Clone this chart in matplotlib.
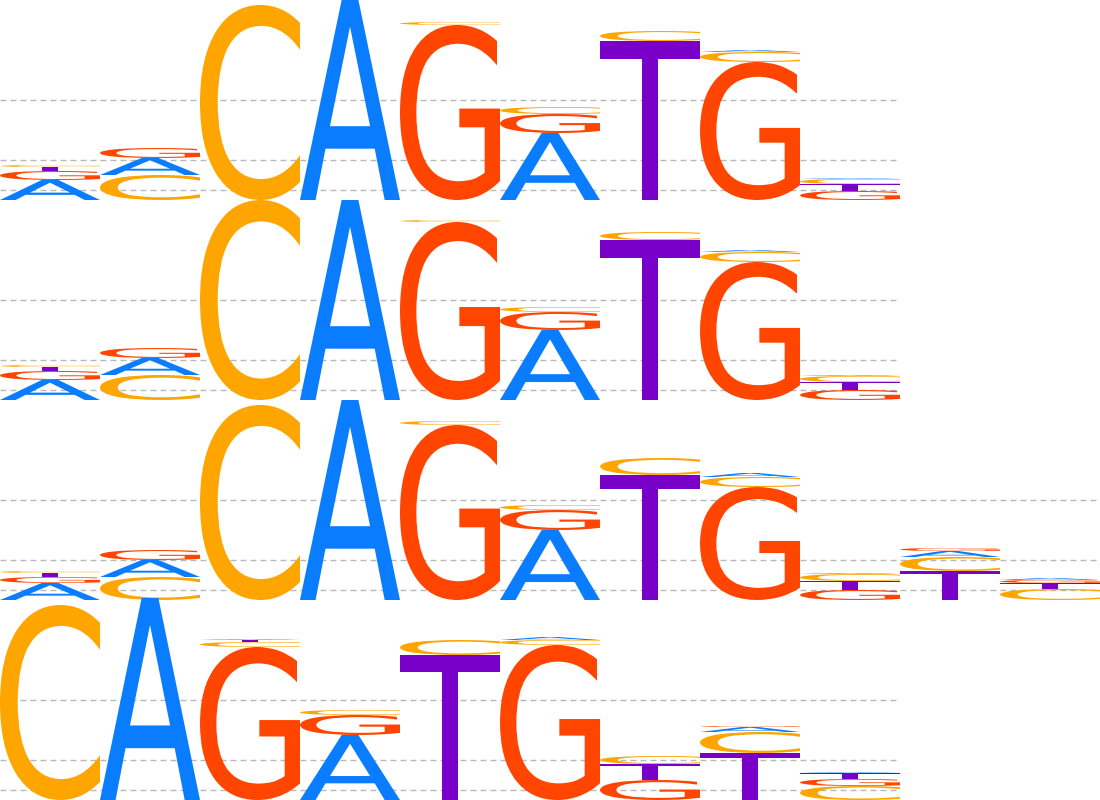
import matplotlib
matplotlib.use('Agg')
import matplotlib.pyplot as plt
from matplotlib.textpath import TextPath
from matplotlib.patches import PathPatch
from matplotlib.font_manager import FontProperties
from matplotlib.transforms import Affine2D

bases = ['A', 'C', 'G', 'T']
colors = {'A': '#0a7dff', 'C': '#ffa500', 'G': '#ff4500', 'T': '#7800c8'}

# information content per position, columns are A, C, G, T (bits)
motif1 = [[0.20, 0.02, 0.09, 0.04],
          [0.17, 0.25, 0.10, 0.00],
          [0.00, 1.95, 0.00, 0.00],
          [2.00, 0.00, 0.00, 0.00],
          [0.00, 0.03, 1.75, 0.00],
          [0.67, 0.07, 0.19, 0.00],
          [0.00, 0.10, 0.00, 1.59],
          [0.02, 0.10, 1.38, 0.00],
          [0.01, 0.05, 0.09, 0.07]]

motif2 = [[0.20, 0.02, 0.09, 0.04],
          [0.17, 0.25, 0.10, 0.00],
          [0.00, 2.00, 0.00, 0.00],
          [2.00, 0.00, 0.00, 0.00],
          [0.00, 0.02, 1.78, 0.00],
          [0.70, 0.05, 0.18, 0.00],
          [0.00, 0.08, 0.00, 1.60],
          [0.02, 0.10, 1.38, 0.00],
          [0.01, 0.06, 0.10, 0.08]]

motif3 = [[0.17, 0.02, 0.06, 0.04],
          [0.17, 0.23, 0.10, 0.00],
          [0.00, 1.95, 0.00, 0.00],
          [2.00, 0.00, 0.00, 0.00],
          [0.00, 0.04, 1.75, 0.00],
          [0.70, 0.05, 0.20, 0.00],
          [0.00, 0.17, 0.00, 1.25],
          [0.04, 0.10, 1.13, 0.00],
          [0.01, 0.07, 0.10, 0.09],
          [0.06, 0.14, 0.03, 0.29],
          [0.02, 0.11, 0.03, 0.06]]

motif4 = [[0.00, 1.95, 0.00, 0.00],
          [2.02, 0.00, 0.00, 0.00],
          [0.01, 0.05, 1.53, 0.02],
          [0.65, 0.05, 0.20, 0.00],
          [0.00, 0.15, 0.00, 1.45],
          [0.03, 0.05, 1.55, 0.00],
          [0.00, 0.08, 0.20, 0.16],
          [0.05, 0.21, 0.01, 0.47],
          [0.01, 0.14, 0.07, 0.06]]

motifs = [motif1, motif2, motif3, motif4]
grid_levels = [1.0, 0.4, 0.1]

fp = FontProperties(family='DejaVu Sans')


def draw_letter(ax, letter, x, y, w, h):
    path = TextPath((0, 0), letter, size=1, prop=fp)
    ext = path.get_extents()
    tr = Affine2D().translate(-ext.x0, -ext.y0) \
        .scale(w / ext.width, h / ext.height).translate(x, y)
    patch = PathPatch(tr.transform_path(path), facecolor=colors[letter],
                      edgecolor='none', lw=0, zorder=3, clip_on=False)
    ax.add_patch(patch)


fig = plt.figure(figsize=(11, 8), dpi=100)

for r, motif in enumerate(motifs):
    n = len(motif)
    ax = fig.add_axes([0, 1 - (r + 1) * 0.25, n / 11, 0.25])
    ax.set_xlim(0, n)
    ax.set_ylim(0, 2)
    ax.axis('off')
    for lv in grid_levels:
        ax.axhline(lv, color='#b8b8b8', lw=1, ls=(0, (4.3, 2.9)), zorder=1)
    for i, col in enumerate(motif):
        # biggest letter at the bottom
        order = sorted(range(4), key=lambda k: -col[k])
        y = 0
        for k in order:
            h = col[k]
            if h <= 0:
                continue
            draw_letter(ax, bases[k], i, y, 1, h)
            y += h

fig.savefig('out.png', dpi=100)
